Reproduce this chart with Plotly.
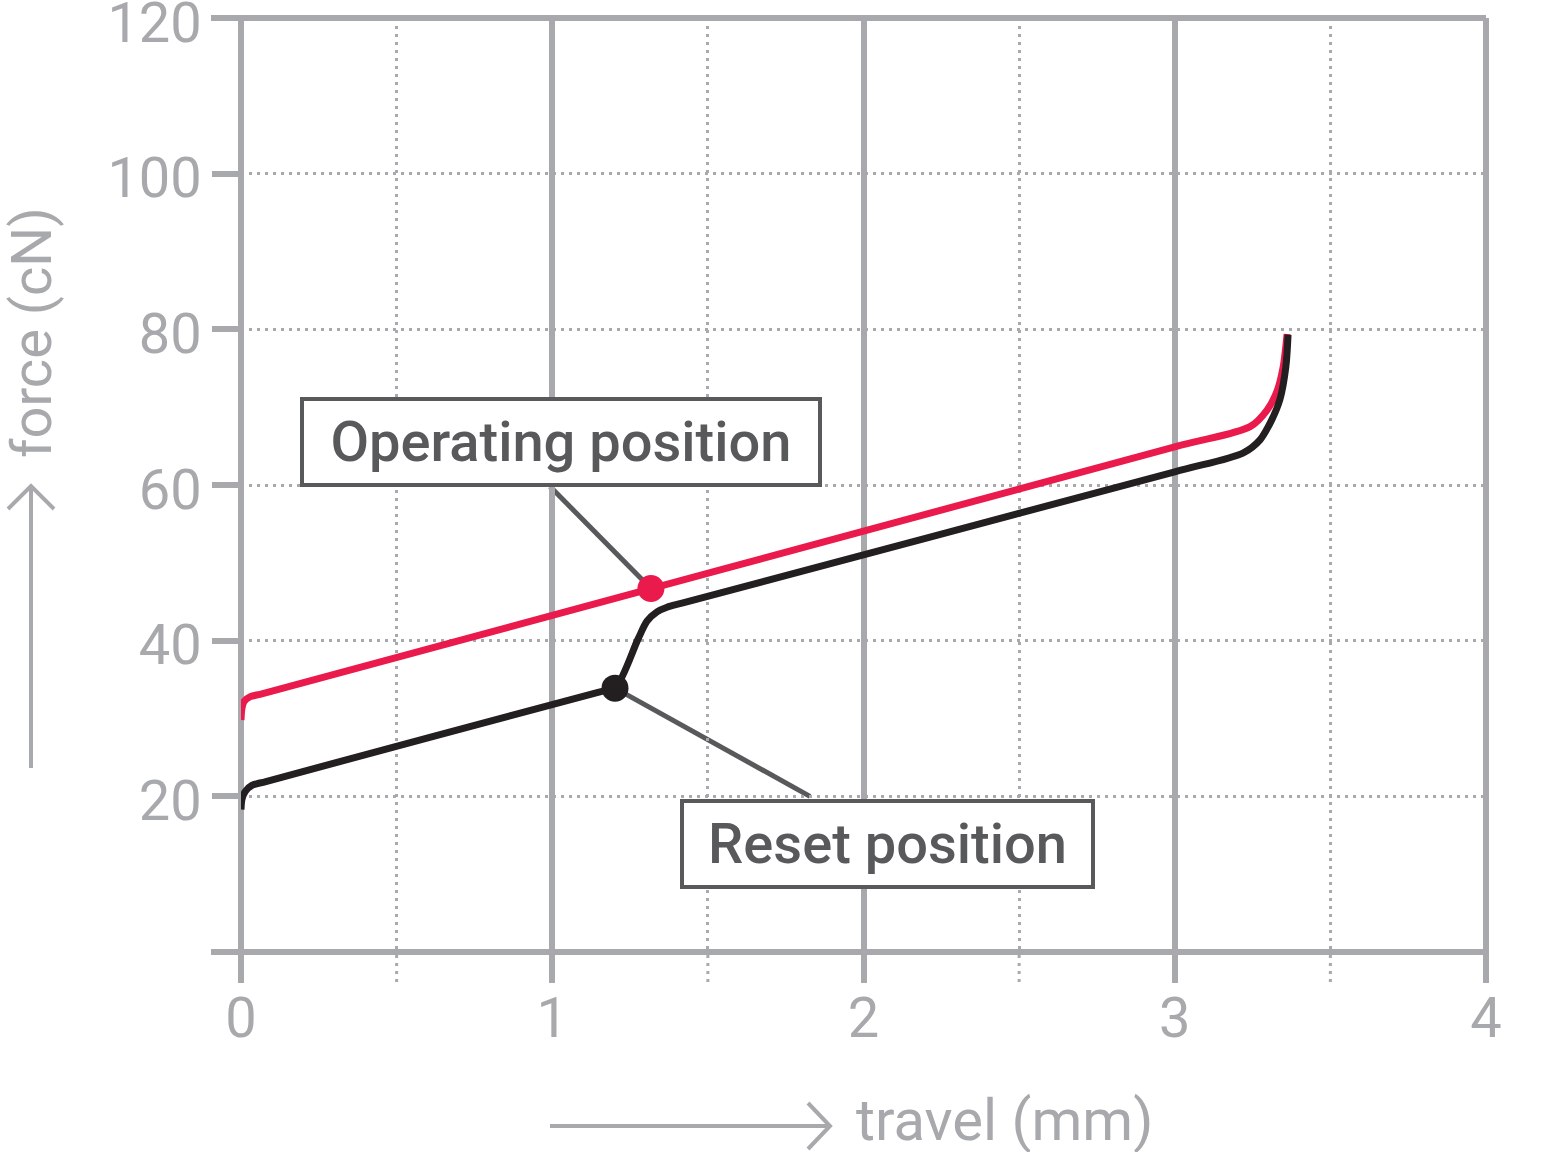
import plotly.graph_objects as go

# ---------------- data ----------------
operating_x = [0, 0.003, 0.01, 0.03, 0.07, 3.0, 3.242, 3.296, 3.329, 3.348, 3.361]
operating_y = [29.8, 31.3, 32.2, 32.8, 33.2, 64.9, 67.5, 69.6, 72.1, 75.1, 79.4]

reset_x = [0, 0.003, 0.013, 0.035, 0.08, 1.15, 1.2016, 1.2755, 1.3044, 1.3365, 1.3687,
           1.42, 3.0, 3.219, 3.274, 3.312, 3.338, 3.357, 3.364]
reset_y = [18.3, 19.6, 20.6, 21.4, 21.9, 33.4, 33.9, 40.2, 42.5, 43.7, 44.3,
           44.85, 61.7, 64.1, 65.8, 68.4, 71.0, 75.2, 79.3]

operating_point = (1.317, 46.7)
reset_point = (1.2016, 33.9)

# callout leader-line far ends (data units)
operating_leader_end = (0.993, 59.8)
reset_leader_end = (1.828, 20.0)

x_major = [0, 1, 2, 3, 4]
x_minor = [0.5, 1.5, 2.5, 3.5]
y_ticks = [0, 20, 40, 60, 80, 100, 120]
y_ticktext = ["", "20", "40", "60", "80", "100", "120"]
x_range = [0, 4]
y_range = [0, 120]

x_title = "travel (mm)"
y_title = "force (cN)"
operating_label = "Operating position"
reset_label = "Reset position"

# ---------------- styling ----------------
W, H = 1557, 1152
# plot area in page pixels: x 241..1486, y 18..952
PX0, PX1, PY0, PY1 = 241, 1486, 18, 952
L, T = PX0, PY0
R, B = W - PX1, H - PY1
PW, PH = PX1 - PX0, PY1 - PY0
GRAY = "#a7a9ac"
DARK = "#58595b"
RED = "#ea1a4c"
BLACK = "#231f20"
FONT = "Roboto"
TICKLEN = 30


def pxx(p):
    return (p - PX0) / PW


def pxy(p):
    return (PY1 - p) / PH


def xdom(v):
    return (v - x_range[0]) / (x_range[1] - x_range[0])


def ydom(v):
    return (v - y_range[0]) / (y_range[1] - y_range[0])


fig = go.Figure()

fig.add_trace(go.Scatter(x=operating_x, y=operating_y, mode="lines",
                         line=dict(color=RED, width=7, shape="spline", smoothing=0.8),
                         hoverinfo="skip"))
fig.add_trace(go.Scatter(x=reset_x, y=reset_y, mode="lines",
                         line=dict(color=BLACK, width=7, shape="spline", smoothing=0.8),
                         hoverinfo="skip"))
fig.add_trace(go.Scatter(x=[operating_point[0]], y=[operating_point[1]], mode="markers",
                         marker=dict(color=RED, size=27), hoverinfo="skip"))
fig.add_trace(go.Scatter(x=[reset_point[0]], y=[reset_point[1]], mode="markers",
                         marker=dict(color=BLACK, size=27), hoverinfo="skip"))

shapes = []
# solid frame lines
for v in (x_range[0], x_range[1]):
    shapes.append(dict(type="line", xref="x domain", yref="y domain",
                       x0=xdom(v), x1=xdom(v), y0=-TICKLEN / PH, y1=1,
                       line=dict(color=GRAY, width=6), layer="below"))
for v in (y_range[0], y_range[1]):
    shapes.append(dict(type="line", xref="x domain", yref="y domain",
                       x0=-TICKLEN / PW, x1=1, y0=ydom(v), y1=ydom(v),
                       line=dict(color=GRAY, width=6), layer="below"))
# dotted minor extensions below the axis
for v in x_minor:
    shapes.append(dict(type="line", xref="x domain", yref="y domain",
                       x0=xdom(v), x1=xdom(v), y0=-TICKLEN / PH, y1=0,
                       line=dict(color=GRAY, width=3, dash="3px,5px"), layer="below"))
# callout leader lines
shapes.append(dict(type="line", xref="x", yref="y",
                   x0=operating_leader_end[0], y0=operating_leader_end[1],
                   x1=operating_point[0], y1=operating_point[1],
                   line=dict(color=DARK, width=5), layer="below"))
shapes.append(dict(type="line", xref="x", yref="y",
                   x0=reset_point[0], y0=reset_point[1],
                   x1=reset_leader_end[0], y1=reset_leader_end[1],
                   line=dict(color=DARK, width=5), layer="below"))
# axis-title arrows
shapes.append(dict(type="path", xref="paper", yref="paper",
                   path=f"M {pxx(550)},{pxy(1126)} L {pxx(830)},{pxy(1126)} "
                        f"M {pxx(808)},{pxy(1103)} L {pxx(830)},{pxy(1126)} L {pxx(808)},{pxy(1149)}",
                   line=dict(color=GRAY, width=4)))
shapes.append(dict(type="path", xref="paper", yref="paper",
                   path=f"M {pxx(31)},{pxy(768)} L {pxx(31)},{pxy(486)} "
                        f"M {pxx(8)},{pxy(509)} L {pxx(31)},{pxy(486)} L {pxx(54)},{pxy(509)}",
                   line=dict(color=GRAY, width=4)))

annotations = [
    dict(text=x_title, xref="paper", yref="paper", x=pxx(854), y=pxy(1120),
         xanchor="left", yanchor="middle", showarrow=False,
         font=dict(family=FONT, size=58, color=GRAY)),
    dict(text=y_title, xref="paper", yref="paper", x=pxx(32), y=pxy(333),
         xanchor="center", yanchor="middle", showarrow=False, textangle=-90,
         font=dict(family=FONT, size=56, color=GRAY)),
    dict(text=operating_label, xref="paper", yref="paper", x=pxx(561), y=pxy(442),
         xanchor="center", yanchor="middle", showarrow=False,
         width=514, height=82, borderpad=0, borderwidth=4, bordercolor=DARK, bgcolor="white",
         font=dict(family=FONT, size=56, color=DARK, weight=500)),
    dict(text=reset_label, xref="paper", yref="paper", x=pxx(887.5), y=pxy(844),
         xanchor="center", yanchor="middle", showarrow=False,
         width=407, height=82, borderpad=0, borderwidth=4, bordercolor=DARK, bgcolor="white",
         font=dict(family=FONT, size=56, color=DARK, weight=500)),
]

fig.update_layout(
    width=W, height=H,
    margin=dict(l=L, r=R, t=T, b=B, pad=0, autoexpand=False),
    paper_bgcolor="white", plot_bgcolor="white",
    showlegend=False,
    shapes=shapes, annotations=annotations,
    xaxis=dict(range=x_range, tickmode="array", tickvals=x_major,
               ticks="outside", ticklen=TICKLEN, tickwidth=6, tickcolor=GRAY,
               showgrid=True, gridcolor=GRAY, gridwidth=6, automargin=False,
               zeroline=False, showline=False, ticklabelstandoff=-13,
               ticklabeloverflow="allow",
               tickfont=dict(family=FONT, size=56, color=GRAY),
               minor=dict(tickvals=x_minor, showgrid=True, gridcolor=GRAY,
                          gridwidth=3, griddash="3px,5px", ticks="")),
    yaxis=dict(range=y_range, tickmode="array", tickvals=y_ticks, ticktext=y_ticktext,
               ticks="outside", ticklen=TICKLEN - 2, tickwidth=6, tickcolor=GRAY,
               showgrid=True, gridcolor=GRAY, gridwidth=3, griddash="3px,5px",
               zeroline=False, showline=False, ticklabelstandoff=-1, ticklabelshift=4,
               automargin=False, ticklabeloverflow="allow",
               tickfont=dict(family=FONT, size=56, color=GRAY)),
)

fig.write_html(
    "out.html",
    config={"displayModeBar": False},
    post_script="document.body.style.margin='0';document.body.style.overflow='hidden';",
)
